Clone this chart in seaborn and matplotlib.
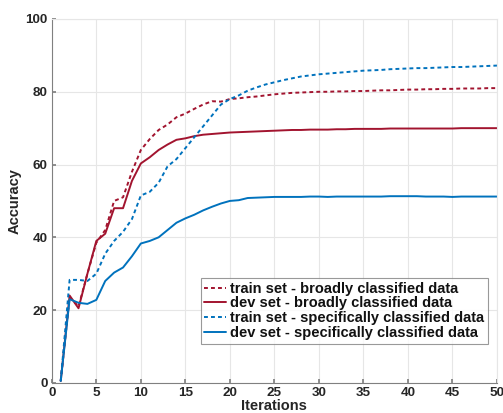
import numpy as np
import pandas as pd
import matplotlib
matplotlib.use("Agg")
import matplotlib.pyplot as plt
import seaborn as sns

# Dados
iteracoes = list(range(1, 51))

train_broad = [0.5, 23.5, 21, 30, 38.5, 42, 50, 51, 58, 64,
               67, 69.5, 71, 73, 74, 75.3, 76.5, 77.4, 77.3, 78,
               78.2, 78.5, 78.7, 79, 79.3, 79.5, 79.7, 79.8, 79.9, 80,
               80, 80.1, 80.1, 80.2, 80.2, 80.3, 80.4, 80.4, 80.5, 80.6,
               80.6, 80.7, 80.7, 80.8, 80.8, 80.9, 80.9, 80.9, 81, 81]
dev_broad = [0.5, 24, 20.5, 30, 39, 41, 48, 48, 55.5, 60.3,
             62, 64, 65.5, 66.8, 67.2, 67.8, 68.2, 68.4, 68.6, 68.8,
             68.9, 69, 69.1, 69.2, 69.3, 69.4, 69.5, 69.5, 69.6, 69.6,
             69.6, 69.7, 69.7, 69.8, 69.8, 69.8, 69.8, 69.9, 69.9, 69.9,
             69.9, 69.9, 69.9, 69.9, 69.9, 70, 70, 70, 70, 70]
train_spec = [0.5, 28.3, 28.3, 28, 30, 35.5, 39, 41.5, 45, 51.5,
              52.5, 55, 59.5, 61.5, 64.5, 67.5, 70.5, 73.5, 76.5, 78,
              79, 80.3, 81.2, 82, 82.6, 83.2, 83.7, 84.2, 84.5, 84.8,
              85, 85.2, 85.4, 85.6, 85.8, 85.9, 86, 86.2, 86.3, 86.4,
              86.5, 86.5, 86.6, 86.7, 86.8, 86.8, 86.9, 87, 87.1, 87.2]
dev_spec = [0.5, 23, 22, 21.7, 22.8, 28, 30.3, 31.7, 34.8, 38.3,
            39, 40, 42, 44, 45.2, 46.2, 47.4, 48.4, 49.3, 50,
            50.2, 50.8, 50.9, 51, 51.1, 51.1, 51.1, 51.1, 51.2, 51.2,
            51.1, 51.2, 51.2, 51.2, 51.2, 51.2, 51.2, 51.3, 51.3, 51.3,
            51.3, 51.2, 51.2, 51.2, 51.1, 51.2, 51.2, 51.2, 51.2, 51.2]

rotulos = ["train set - broadly classified data",
           "dev set - broadly classified data",
           "train set - specifically classified data",
           "dev set - specifically classified data"]
series = [train_broad, dev_broad, train_spec, dev_spec]
cores = ["#A2142F", "#A2142F", "#0072BD", "#0072BD"]
estilos = [(0, (2, 1.6)), "-", (0, (2, 1.6)), "-"]

sns.set_theme(style="white")
plt.rcParams['font.family'] = ['Liberation Sans', 'DejaVu Sans']
plt.rcParams['font.weight'] = 'bold'

fig = plt.figure(figsize=(5.03, 4.13), dpi=100)
ax = fig.add_axes([0.103, 0.073, 0.885, 0.881])

for rot, vals, cor, ls in zip(rotulos, series, cores, estilos):
    df = pd.DataFrame({'iter': iteracoes, 'acc': vals})
    sns.lineplot(x='iter', y='acc', data=df, ax=ax, color=cor,
                 linestyle=ls, linewidth=1.4, label=rot)

ax.set_xlim(0, 50)
ax.set_ylim(0, 100)
ax.set_xticks(range(0, 51, 5))
ax.set_yticks(range(0, 101, 20))
ax.grid(True, color='#e6e6e6', linewidth=0.8)
ax.set_axisbelow(True)
for s in ['top', 'right']:
    ax.spines[s].set_color('#e6e6e6')
    ax.spines[s].set_linewidth(0.8)
for s in ['left', 'bottom']:
    ax.spines[s].set_color('#808080')
    ax.spines[s].set_linewidth(0.8)
ax.tick_params(direction='in', length=3, color='#808080', labelsize=9.7,
               labelcolor='#262626', bottom=True, left=True, pad=3)
for lab in ax.get_xticklabels() + ax.get_yticklabels():
    lab.set_fontweight('bold')
ax.set_xlabel('Iterations', fontsize=10.5, fontweight='bold', color='#262626', labelpad=0)
ax.set_ylabel('Accuracy', fontsize=10.5, fontweight='bold', color='#262626', labelpad=3)

leg = ax.legend(loc='lower right', bbox_to_anchor=(0.979, 0.108), fontsize=10.5,
                frameon=True, fancybox=False, handlelength=1.5, handletextpad=0.25,
                labelspacing=0.05, borderpad=0.25, borderaxespad=0)
leg.get_frame().set_edgecolor('#808080')
leg.get_frame().set_linewidth(0.8)
for t in leg.get_texts():
    t.set_fontweight('bold')
    t.set_color('#111111')

fig.savefig('out.png', dpi=100)
